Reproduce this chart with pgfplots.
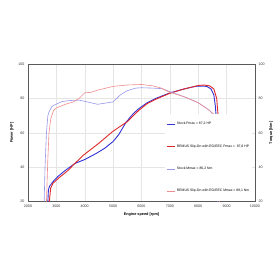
\documentclass[border=0pt]{standalone}
\usepackage{fontspec}
\setmainfont{Liberation Sans}
\usepackage{pgfplots}
\pgfplotsset{compat=1.18}
\definecolor{pblue}{RGB}{50,50,215}
\definecolor{pred}{RGB}{225,40,40}
\definecolor{tblue}{RGB}{150,150,235}
\definecolor{tred}{RGB}{240,140,140}
\begin{document}
\begin{tikzpicture}[x=1pt,y=1pt]
\useasboundingbox (-28,-78.3) rectangle (252,201.7);
\pgfplotsset{every axis/.append style={
  at={(0,0)},anchor=south west, scale only axis, width=227pt, height=137.7pt,
  xmin=2000,xmax=10000,ymin=20,ymax=100,
  xtick={2000,3000,...,10000}, ytick={20,40,...,100},
  scaled x ticks=false, scaled y ticks=false,
  major tick length=0pt,
  ticklabel style={font=\fontsize{3.6}{4}\selectfont, text=black!80},
  /pgf/number format/assume math mode=true, /pgf/number format/1000 sep={},
  label style={font=\fontsize{3.8}{4}\selectfont\bfseries},
  axis line style={black!65, line width=0.8pt},
}}
\begin{axis}[
  grid=major, grid style={black!10, line width=0.4pt},
  xlabel={Engine speed [rpm]}, ylabel={Power [HP]},
  xlabel style={yshift=2pt}, ylabel style={yshift=-2pt},
  legend cell align=left,
  legend style={at={(0.603,0)}, anchor=south west, fill=white, draw=none,
    font=\fontsize{3.4}{4}\selectfont, row sep=14.5pt, inner ysep=6pt, inner xsep=1pt},
  legend image code/.code={\draw[#1] (0pt,0pt) -- (8pt,0pt);},
]
\addplot[pblue, line width=0.9pt] coordinates {(2700,20)(2720,27)(2760,29)(2900,32)(3050,34.6)(3300,38)(3650,42.2)(4000,44.5)(4400,48)(4700,51)(5000,55)(5200,59)(5450,66)(5700,71)(5900,74)(6200,77.5)(6500,80)(7000,83.2)(7500,85.5)(7900,87)(8100,87.2)(8300,87)(8450,85.5)(8550,82)(8600,76)(8650,66)(8680,20)};
\addlegendentry{Stock Pmax = 87,2 HP}
\addplot[pred, line width=0.9pt] coordinates {(2750,20)(2800,28)(2880,30.7)(3100,34)(3400,38)(3650,42.2)(3950,47)(4500,54)(5000,61)(5500,66.5)(5900,73)(6200,77)(6500,79.5)(7000,83)(7500,85.5)(8000,87.5)(8200,87.8)(8400,87.3)(8550,85.5)(8650,80)(8700,70)(8750,20)};
\addlegendentry{REMUS Slip-On with EG/EEC Pmax =\ \ 87,8 HP}
\addplot[tblue, line width=0.6pt] coordinates {(2570,20)(2600,40)(2650,60)(2700,70)(2750,72.5)(2850,75.5)(3000,76.7)(3200,78.2)(3500,78.8)(3800,79)(4000,78.3)(4450,76.6)(4700,77.2)(5000,78)(5250,82)(5500,84.5)(5800,86)(6000,86.2)(6400,86)(6700,85.7)(7000,84)(7500,81)(8000,77.5)(8400,73)(8600,69)(8650,65)(8680,20)};
\addlegendentry{Stock Mmax = 86,2 Nm}
\addplot[tred, line width=0.6pt] coordinates {(2650,20)(2700,45)(2740,60)(2800,68)(2900,73)(3000,74.5)(3300,76.5)(3600,78)(3800,80)(4000,83.3)(4200,83.5)(4500,85)(5000,87)(5500,87.8)(6000,88.1)(6400,87.3)(6700,86)(7000,83.5)(7500,81)(8000,77.5)(8400,73)(8600,70)(8700,66)(8750,20)};
\addlegendentry{REMUS Slip-On with EG/EEC Mmax = 88,1 Nm}
\end{axis}
\begin{axis}[
  axis y line*=right, axis x line=none,
  ylabel={Torque [Nm]}, ylabel style={yshift=2pt},
]
\addplot[draw=none] coordinates {(2000,20)};
\end{axis}
\end{tikzpicture}
\end{document}
